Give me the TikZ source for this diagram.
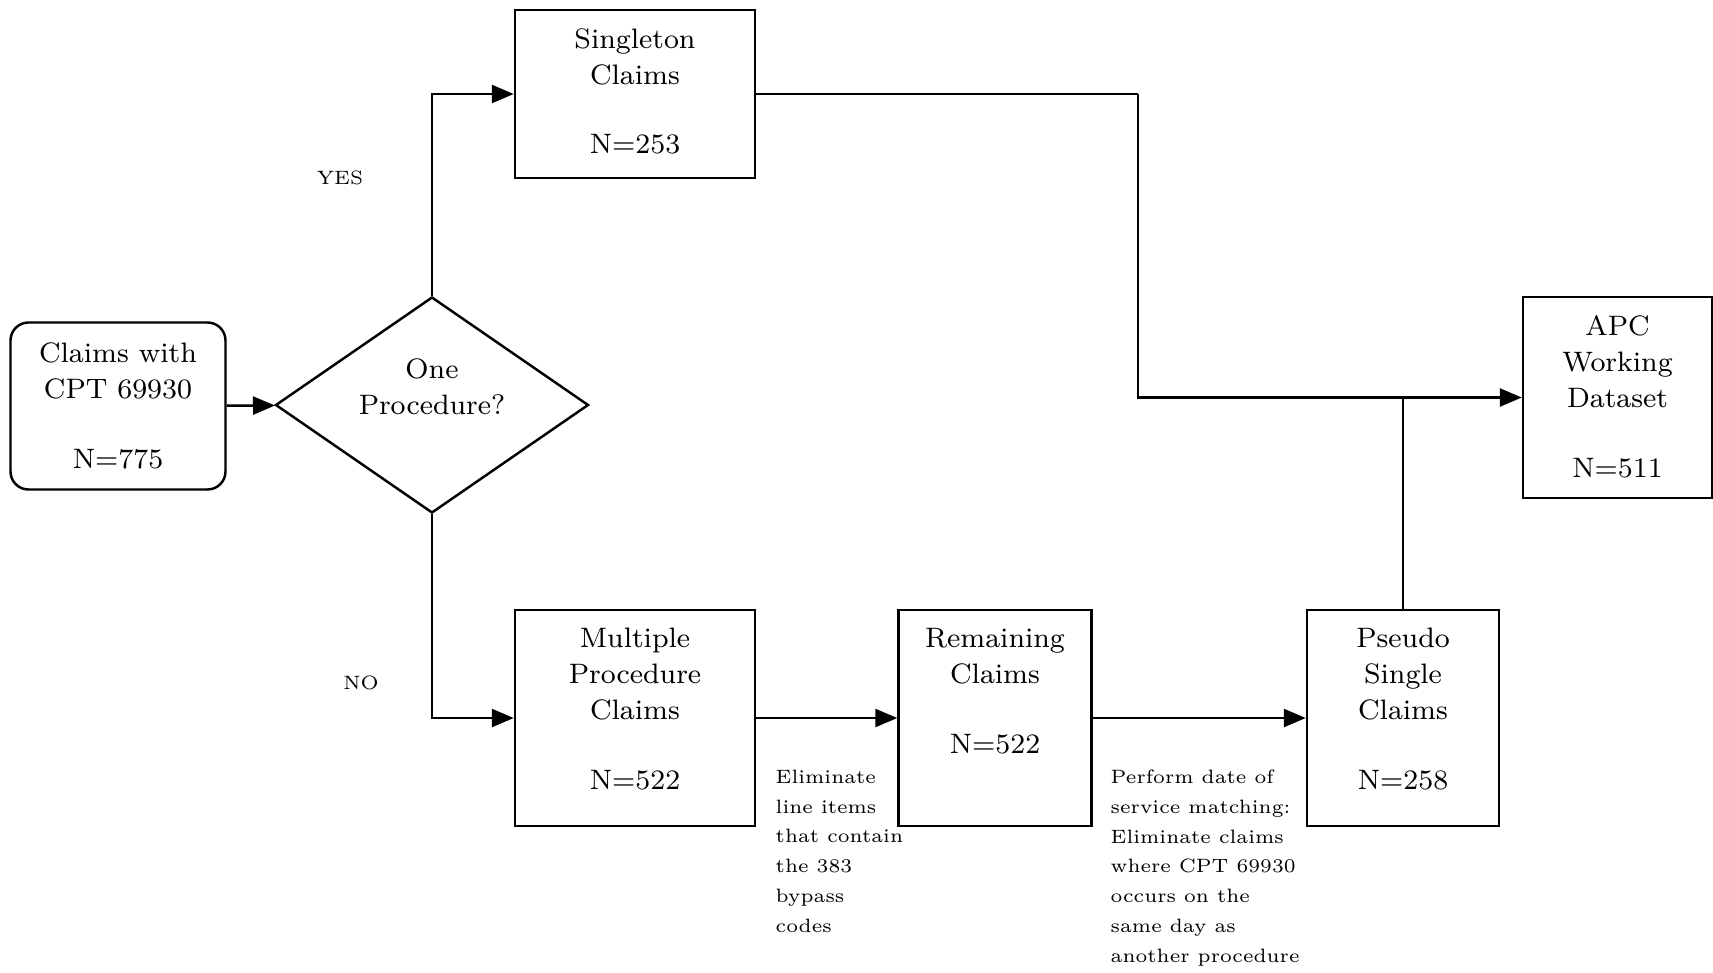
\documentclass[tikz,border=0pt]{standalone}
\usepackage{tikz}
\usetikzlibrary{shapes.geometric,arrows.meta}

\tikzset{
  box/.style={draw, line width=0.7pt, inner sep=0pt},
  boxtxt/.style={anchor=north, align=center, inner sep=0pt, font=\fontsize{8}{10.2}\selectfont},
  note/.style={anchor=north west, align=left, inner sep=0pt, font=\fontsize{5.5}{8.5}\selectfont},
  link/.style={line width=0.7pt},
  flow/.style={link, -{Triangle[length=0.22cm,width=0.18cm]}},
}

\begin{document}
\begin{tikzpicture}
\useasboundingbox (0,0) rectangle (17.13,9.72);
% boxes
\node[box, rounded corners=0.18cm, minimum width=2.15cm, minimum height=1.67cm, align=center,
      font=\fontsize{8}{10.2}\selectfont] (start) at (1.18,5.66) {Claims with\\CPT 69930\\[0.34cm]N=775};
\node[box, shape=diamond, minimum width=3.13cm, minimum height=2.16cm] (ask) at (4.32,5.67) {};
\node[boxtxt, anchor=center] (asktxt) at (4.32,5.85) {One\\Procedure?};
\node[box, minimum width=2.40cm, minimum height=1.68cm] (single) at (6.35,8.78) {};
\node[box, minimum width=2.40cm, minimum height=2.16cm] (mult) at (6.35,2.54) {};
\node[box, minimum width=1.93cm, minimum height=2.16cm] (rem) at (9.95,2.54) {};
\node[box, minimum width=1.92cm, minimum height=2.16cm] (pseudo) at (14.03,2.54) {};
\node[box, minimum width=1.89cm, minimum height=2.01cm] (apc) at (16.175,5.745) {};
% box texts
\node[boxtxt] (singletxt) at ([yshift=-0.19cm]single.north) {Singleton\\Claims\\[0.34cm]N=253};
\node[boxtxt] (multtxt) at ([yshift=-0.19cm]mult.north) {Multiple\\Procedure\\Claims\\[0.34cm]N=522};
\node[boxtxt] (remtxt) at ([yshift=-0.19cm]rem.north) {Remaining\\Claims\\[0.34cm]N=522};
\node[boxtxt] (pseudotxt) at ([yshift=-0.19cm]pseudo.north) {Pseudo\\Single\\Claims\\[0.34cm]N=258};
\node[boxtxt] (apctxt) at ([yshift=-0.19cm]apc.north) {APC\\Working\\Dataset\\[0.34cm]N=511};
% connectors
\foreach \from/\to in {start/ask,mult/rem,rem/pseudo}
  \draw[flow] (\from) -- (\to);
\draw[flow] (ask) |- (single);
\draw[flow] (ask) |- (mult);
\coordinate (bend) at (11.38,8.78);
\draw[link] (single) -- (bend);
\draw[flow] (bend) |- (apc);
\draw[link] (pseudo) -- (pseudo |- apc);
% labels
\node[note, anchor=center] (yes) at (3.40,7.94) {YES};
\node[note, anchor=center] (no) at (3.61,2.89) {NO};
\node[note] (elim) at (7.75,2.03) {Eliminate\\line items\\that contain\\the 383\\bypass\\codes};
\node[note] (match) at (11.10,2.03) {Perform date of\\service matching:\\Eliminate claims\\where CPT 69930\\occurs on the\\same day as\\another procedure};
\end{tikzpicture}
\end{document}
